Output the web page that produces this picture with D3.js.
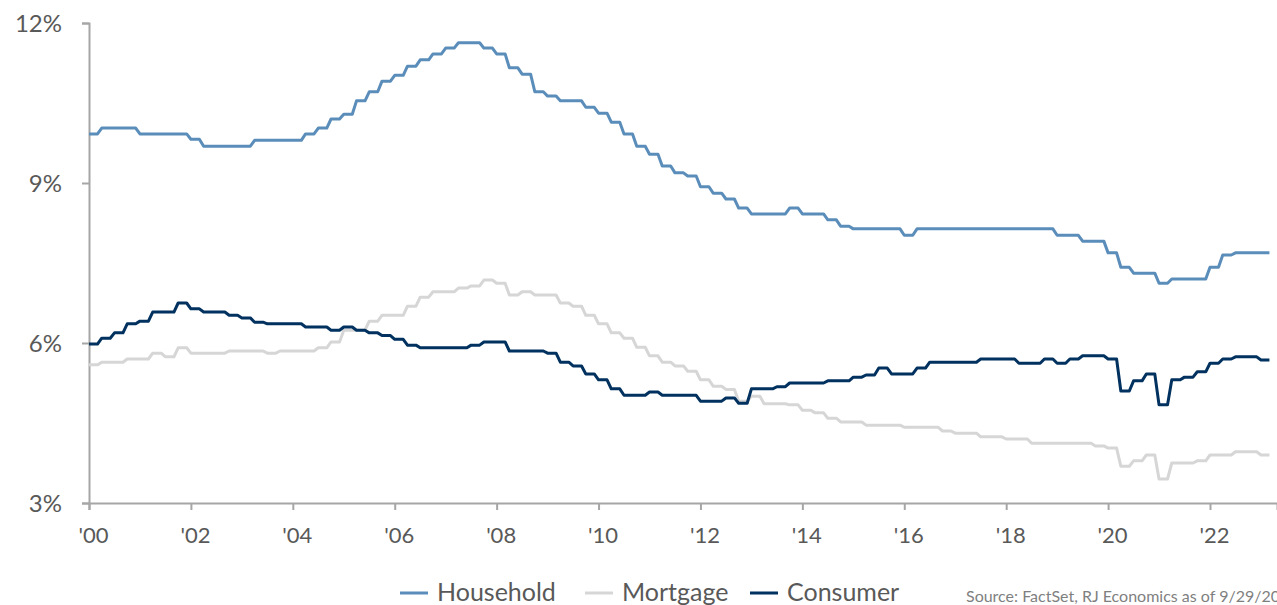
<!DOCTYPE html>
<html>
  <head>
    <meta charset="utf-8">
    <script src="https://cdn.jsdelivr.net/npm/d3@7"></script>
    <style type="text/css">
      body { margin: 0; background: #ffffff; }
      svg { display: block; }
      text { font-family: Lato, "Noto Sans", sans-serif; }
    </style>
  </head>
  <body>
    <script type="text/javascript">
      // Quarterly debt service ratios (%), 2000 Q1 through 2023 Q1
      var startYear = 2000;
      var household = [
        9.92, 10.03, 10.03, 10.03, 9.92, 9.92, 9.92, 9.92,
        9.82, 9.69, 9.69, 9.69, 9.69, 9.80, 9.80, 9.80,
        9.80, 9.92, 10.03, 10.20, 10.29, 10.54, 10.71, 10.91,
        11.02, 11.19, 11.31, 11.42, 11.53, 11.63, 11.63, 11.53,
        11.42, 11.16, 11.04, 10.71, 10.63, 10.54, 10.54, 10.42,
        10.31, 10.14, 9.92, 9.69, 9.54, 9.32, 9.19, 9.13,
        8.93, 8.81, 8.70, 8.53, 8.42, 8.42, 8.42, 8.53,
        8.42, 8.42, 8.31, 8.19, 8.14, 8.14, 8.14, 8.14,
        8.02, 8.14, 8.14, 8.14, 8.14, 8.14, 8.14, 8.14,
        8.14, 8.14, 8.14, 8.14, 8.02, 8.02, 7.91, 7.91,
        7.69, 7.42, 7.31, 7.31, 7.12, 7.20, 7.20, 7.20,
        7.42, 7.65, 7.69, 7.69, 7.69
      ];
      var mortgage = [
        5.59, 5.64, 5.64, 5.70, 5.70, 5.81, 5.74, 5.91,
        5.81, 5.81, 5.81, 5.85, 5.85, 5.85, 5.81, 5.85,
        5.85, 5.85, 5.91, 6.02, 6.24, 6.24, 6.41, 6.52,
        6.52, 6.69, 6.86, 6.96, 6.96, 7.03, 7.07, 7.18,
        7.12, 6.90, 6.96, 6.90, 6.90, 6.75, 6.69, 6.52,
        6.36, 6.19, 6.09, 5.92, 5.76, 5.64, 5.57, 5.47,
        5.31, 5.19, 5.13, 4.91, 5.00, 4.86, 4.86, 4.84,
        4.74, 4.69, 4.59, 4.52, 4.52, 4.46, 4.46, 4.46,
        4.42, 4.42, 4.42, 4.35, 4.31, 4.31, 4.24, 4.24,
        4.20, 4.20, 4.12, 4.12, 4.12, 4.12, 4.12, 4.07,
        4.03, 3.69, 3.79, 3.90, 3.45, 3.75, 3.75, 3.79,
        3.90, 3.90, 3.96, 3.96, 3.90
      ];
      var consumer = [
        5.98, 6.09, 6.19, 6.36, 6.41, 6.58, 6.58, 6.75,
        6.64, 6.58, 6.58, 6.52, 6.47, 6.39, 6.36, 6.36,
        6.36, 6.30, 6.30, 6.24, 6.30, 6.24, 6.19, 6.14,
        6.07, 5.96, 5.91, 5.91, 5.91, 5.91, 5.96, 6.02,
        6.02, 5.85, 5.85, 5.85, 5.81, 5.64, 5.57, 5.42,
        5.31, 5.14, 5.02, 5.02, 5.08, 5.02, 5.02, 5.02,
        4.91, 4.91, 4.97, 4.87, 5.14, 5.14, 5.18, 5.25,
        5.25, 5.25, 5.29, 5.29, 5.36, 5.40, 5.53, 5.42,
        5.42, 5.53, 5.64, 5.64, 5.64, 5.64, 5.70, 5.70,
        5.70, 5.62, 5.62, 5.70, 5.62, 5.70, 5.76, 5.76,
        5.70, 5.10, 5.29, 5.42, 4.84, 5.31, 5.36, 5.46,
        5.62, 5.70, 5.74, 5.74, 5.68
      ];
      var seriesNames = ["Household", "Mortgage", "Consumer"];
      var seriesColors = ["#5B8DBA", "#D6D6D6", "#00315F"];
      var yTicks = [3, 6, 9, 12];
      var xTicks = [2000, 2002, 2004, 2006, 2008, 2010, 2012, 2014, 2016, 2018, 2020, 2022];
      var sourceNote = "Source: FactSet, RJ Economics as of 9/29/2023";

      var width = 1277;
      var height = 605;
      var svg = d3.select("body").append("svg")
        .attr("width", width).attr("height", height);

      // Scales: plot area spans '00 to '22 ticks and 3% to 12%
      var x = d3.scaleLinear().domain([2000, 2022]).range([89, 1210]);
      var y = d3.scaleLinear().domain([3, 12]).range([503, 23]);
      var axisColor = "#A6A6A6";
      var labelColor = "#595959";

      // Each quarter's value is held across its three months
      function toPoints(values) {
        var pts = [];
        values.forEach(function(v, q) {
          pts.push([startYear + (q * 3) / 12, v]);
          pts.push([startYear + (q * 3 + 2) / 12, v]);
        });
        return pts;
      }
      var line = d3.line()
        .x(function(d) { return x(d[0]); })
        .y(function(d) { return y(d[1]); });

      // Y axis
      var yAxis = d3.axisLeft(y).tickValues(yTicks).tickSizeOuter(0).tickSize(7)
        .tickFormat(function(d) { return d + "%"; });
      var gy = svg.append("g").attr("transform", "translate(89,0)").call(yAxis);
      gy.select(".domain").attr("stroke", axisColor).attr("stroke-width", 2);
      gy.selectAll(".tick line").attr("stroke", axisColor).attr("stroke-width", 2);
      gy.selectAll(".tick text").attr("fill", labelColor)
        .style("font-size", "24px").attr("x", -27).attr("dy", "0.35em");

      // X axis, its line runs out to the right edge
      var xAxisScale = x.copy().domain([2000, x.invert(width)]).range([89, width]);
      var xAxis = d3.axisBottom(xAxisScale).tickValues(xTicks).tickSizeOuter(0).tickSize(7)
        .tickFormat(function(d) { return "'" + String(d).slice(2); });
      var gx = svg.append("g").attr("transform", "translate(0,503)").call(xAxis);
      gx.select(".domain").attr("stroke", axisColor).attr("stroke-width", 2);
      gx.selectAll(".tick line").attr("stroke", axisColor).attr("stroke-width", 2);
      gx.selectAll(".tick text").attr("fill", labelColor)
        .style("font-size", "22px").attr("y", 24).attr("dx", 4).attr("dy", "0.71em");

      // Lines: household, mortgage, consumer (consumer on top)
      [household, mortgage, consumer].forEach(function(values, i) {
        svg.append("path")
          .datum(toPoints(values))
          .attr("fill", "none")
          .attr("stroke", seriesColors[i])
          .attr("stroke-width", 3)
          .attr("stroke-linejoin", "round")
          .attr("d", line);
      });

      // Legend, sitting low at the bottom edge as in the original
      var legendX = [400, 585, 750];
      var legend = svg.append("g");
      seriesNames.forEach(function(name, i) {
        legend.append("line")
          .attr("x1", legendX[i]).attr("x2", legendX[i] + 28)
          .attr("y1", 593).attr("y2", 593)
          .attr("stroke", seriesColors[i]).attr("stroke-width", 3);
        legend.append("text")
          .attr("x", legendX[i] + 37).attr("y", 601)
          .attr("fill", labelColor).style("font-size", "25px")
          .text(name);
      });

      // Source note, running past the right edge as in the original
      svg.append("text").attr("x", 966).attr("y", 602)
        .attr("fill", "#7F7F7F").style("font-size", "16px")
        .text(sourceNote);
    </script>
  </body>
</html>
